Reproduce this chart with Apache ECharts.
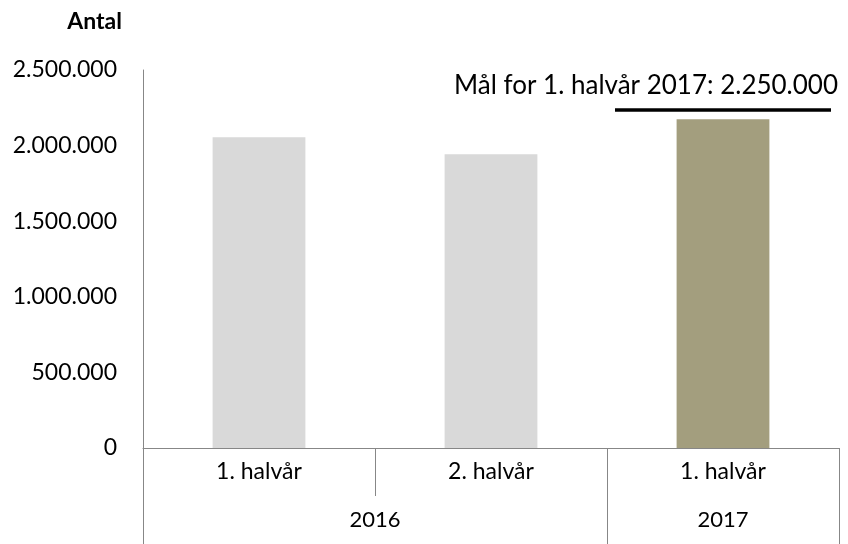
<!DOCTYPE html>
<html>
<head>
<meta charset="utf-8">
<style>
  html,body{margin:0;padding:0;background:#fff}
  #chart{width:848px;height:544px}
</style>
<script src="https://cdn.jsdelivr.net/npm/echarts@6/dist/echarts.min.js"></script>
</head>
<body>
<div id="chart"></div>
<script>
/* data */
const halves = ['1. halvår', '2. halvår', '1. halvår'];
const yearSlots = ['', '', '2016', '', '', '2017', ''];   // half-category grid, year label on the span centre
const yearBorders = [0, 4, 6];
const counts = [2055000, 1942000, 2175000];
const barColors = ['#d9d9d9', '#d9d9d9', '#a39e7e'];
const Y_MIN = 0, Y_MAX = 2500000, Y_STEP = 500000;
const goalText = 'Mål for 1. halvår 2017: 2.250.000';

const FONT = 'Lato, "Open Sans", sans-serif';
const AXC = '#878787';
const fmt = v => String(v).replace(/\B(?=(\d{3})+(?!\d))/g, '.');

const ch = echarts.init(document.getElementById('chart'), null, {renderer:'canvas'});
ch.setOption({
  animation:false,
  textStyle:{fontFamily:FONT},
  title:{text:'Antal', right:726, top:10, padding:0,
    textStyle:{fontFamily:FONT, fontSize:23, fontWeight:'bold', color:'#000'}},
  grid:{left:143, right:9, top:70, bottom:96, containLabel:false},
  xAxis:[
    {type:'category', data:halves, position:'bottom',
     axisLine:{lineStyle:{color:AXC, width:1}},
     axisTick:{show:true, length:48, lineStyle:{color:AXC}},
     axisLabel:{color:'#000', fontSize:23, margin:12, fontFamily:FONT}},
    {type:'category', data:yearSlots, position:'bottom', boundaryGap:false,
     axisLine:{show:false},
     axisTick:{show:true, length:96, interval:(i)=>yearBorders.includes(i), lineStyle:{color:AXC}},
     axisLabel:{interval:0, color:'#000', fontSize:22, margin:61, fontFamily:FONT}}
  ],
  yAxis:{type:'value', min:Y_MIN, max:Y_MAX, interval:Y_STEP,
    axisLine:{show:true, lineStyle:{color:AXC, width:1}},
    axisTick:{show:false}, splitLine:{show:false},
    axisLabel:{color:'#000', fontSize:23, margin:26, fontFamily:FONT, formatter:fmt}},
  series:[{type:'bar', xAxisIndex:0, barWidth:'40%',
    data:counts.map((v,i)=>({value:v, itemStyle:{color:barColors[i]}}))}],
  graphic:[
    {type:'text', x:838, y:86, style:{text:goalText, font:'26px '+FONT, fill:'#000',
      textAlign:'right', textVerticalAlign:'middle'}},
    {type:'line', shape:{x1:615, y1:110, x2:831, y2:110}, style:{stroke:'#000', lineWidth:3.5}}
  ]
});
</script>
</body>
</html>
